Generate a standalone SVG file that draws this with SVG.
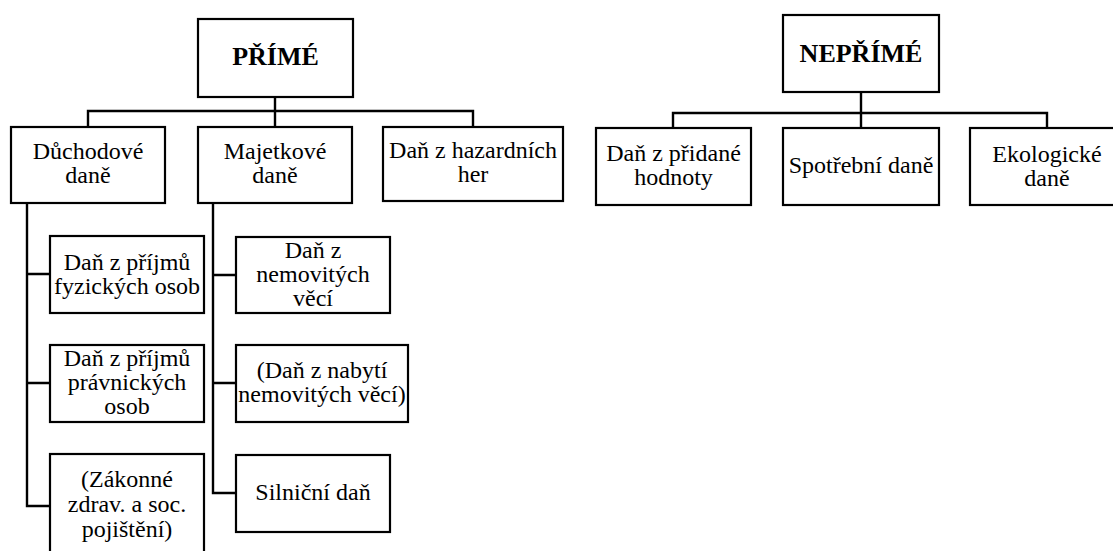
<svg xmlns="http://www.w3.org/2000/svg" width="1113" height="551" viewBox="0 0 1113 551">
<style>
.box{fill:#fff;stroke:#000;stroke-width:2.2}
.t{font-family:'Liberation Serif','Times New Roman',serif;font-size:24px;fill:#000;text-anchor:middle}
.h{font-family:'Liberation Serif','Times New Roman',serif;font-size:26px;font-weight:bold;fill:#000;text-anchor:middle}
.c{fill:none;stroke:#000;stroke-width:2.4}
</style>
<rect width="1113" height="551" fill="#fff"/>
<g id="connectors">
<path class="c" d="M275 97V127M88 127V111H473V127"/>
<path class="c" d="M861 92V128M673 128V113H1047V128"/>
<path class="c" d="M27 203V506H50M27 274H50M27 383H50"/>
<path class="c" d="M213 203V493H236M213 275H236M213 383H236"/>
</g>
<g id="prime"><rect class="box" x="198" y="19" width="155" height="78"/><text class="h" x="275.5" y="65">PŘÍMÉ</text></g>
<g id="neprime"><rect class="box" x="783" y="15" width="156" height="77"/><text class="h" x="861" y="62">NEPŘÍMÉ</text></g>
<g id="duchodove"><rect class="box" x="11" y="127" width="154" height="76"/><text class="t" x="88" y="159">Důchodové</text><text class="t" x="88" y="183">daně</text></g>
<g id="majetkove"><rect class="box" x="198" y="127" width="154" height="76"/><text class="t" x="275" y="159">Majetkové</text><text class="t" x="275" y="183">daně</text></g>
<g id="hazard"><rect class="box" x="383" y="127" width="180" height="74"/><text class="t" x="473" y="158">Daň z hazardních</text><text class="t" x="473" y="182">her</text></g>
<g id="dph"><rect class="box" x="596" y="128" width="155" height="77"/><text class="t" x="673.5" y="161">Daň z přidané</text><text class="t" x="673.5" y="185">hodnoty</text></g>
<g id="spotrebni"><rect class="box" x="783" y="128" width="156" height="77"/><text class="t" x="861" y="173">Spotřební daně</text></g>
<g id="ekologicke"><rect class="box" x="970" y="128" width="155" height="77"/><text class="t" x="1047" y="162">Ekologické</text><text class="t" x="1047" y="186">daně</text></g>
<g id="dpfo"><rect class="box" x="50" y="236" width="154" height="77"/><text class="t" x="127" y="270">Daň z příjmů</text><text class="t" x="127" y="294">fyzických osob</text></g>
<g id="dppo"><rect class="box" x="50" y="345" width="154" height="77"/><text class="t" x="127" y="366">Daň z příjmů</text><text class="t" x="127" y="390">právnických</text><text class="t" x="127" y="414">osob</text></g>
<g id="pojisteni"><rect class="box" x="50" y="454" width="154" height="110"/><text class="t" x="127" y="487">(Zákonné</text><text class="t" x="127" y="512">zdrav. a soc.</text><text class="t" x="127" y="537">pojištění)</text></g>
<g id="nemovite"><rect class="box" x="236" y="237" width="154" height="76"/><text class="t" x="313" y="258">Daň z</text><text class="t" x="313" y="282">nemovitých</text><text class="t" x="313" y="306">věcí</text></g>
<g id="nabyti"><rect class="box" x="236" y="345" width="172" height="77"/><text class="t" x="322" y="378">(Daň z nabytí</text><text class="t" x="322" y="402">nemovitých věcí)</text></g>
<g id="silnicni"><rect class="box" x="236" y="455" width="154" height="77"/><text class="t" x="313" y="500">Silniční daň</text></g>
</svg>
